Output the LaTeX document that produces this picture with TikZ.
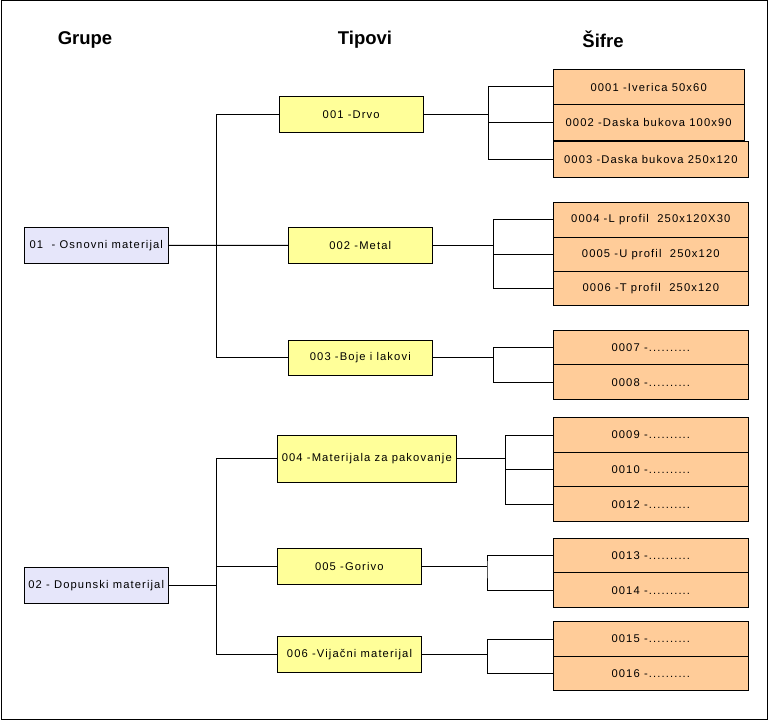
\documentclass[tikz,border=0pt]{standalone}
\usepackage{fontspec}
\setmainfont{Liberation Sans}
\newfontfamily\boxfont[LetterSpace=10]{Liberation Sans}
\usetikzlibrary{positioning}
\definecolor{SifraLavender}{RGB}{230,230,250}
\definecolor{SifraYellow}{RGB}{255,255,153}
\definecolor{SifraPeach}{RGB}{255,204,153}

\begin{document}
\begin{tikzpicture}[x=1pt,y=-1pt,
    title/.style={font=\bfseries\fontsize{18.5}{20}\selectfont},
    box/.style={draw,line width=1pt,inner sep=2pt,outer sep=0pt,minimum height=36pt,font=\boxfont\fontsize{11.2}{13}\selectfont},
    grupa/.style={box,fill=SifraLavender,minimum width=144pt},
    tip/.style={box,fill=SifraYellow,minimum width=144pt},
    sifra/.style={box,fill=SifraPeach,minimum width=195pt,minimum height=34.6pt},
    link/.style={line width=1pt}
  ]
    \useasboundingbox (0,0) rectangle (770,722);
    \draw[line width=1pt] (1,1) rectangle (767.3,719.5);

    \node[title] (grupe) at (85,40) {Grupe};
    \node[title] (tipovi) at (365,40) {Tipovi};
    \node[title] (sifre) at (603,39) {Šifre};

    \node[grupa] (g01) at (96.3,245.5) {01\ \ - Osnovni materijal};
    \node[grupa] (g02) at (96.2,585.3) {02 - Dopunski materijal};

    \node[tip] (t001) at (351.2,114.5) {001 -Drvo};
    \node[tip] (t002) at (360.2,245.3) {002 -Metal};
    \node[tip,minimum height=35pt] (t003) at (360.3,357.8) {003 -Boje i lakovi};
    \node[tip,minimum width=179pt,minimum height=47pt] (t004) at (366.8,458.8) {004 -Materijala za pakovanje};
    \node[tip] (t005) at (349.3,566.3) {005 -Gorivo};
    \node[tip] (t006) at (349.5,654.3) {006 -Vijačni materijal};

    \node[sifra,minimum width=190.7pt,minimum height=35.4pt,anchor=north west] (s0001) at (553.3,69.3) {0001 -Iverica 50x60};
    \node[sifra,minimum width=190.7pt,minimum height=35.4pt,below=0pt of s0001] (s0002) {0002 -Daska bukova 100x90};
    \node[sifra,minimum height=35.6pt,anchor=north west] (s0003) at (553.3,141.7) {0003 -Daska bukova 250x120};

    \node[sifra,minimum height=34.3pt,anchor=north west] (s0004) at (553.3,202.7) {0004 -L profil\ \ 250x120X30};
    \node[sifra,minimum height=34.3pt,below=0pt of s0004] (s0005) {0005 -U profil\ \ 250x120};
    \node[sifra,minimum height=34.3pt,below=0pt of s0005] (s0006) {0006 -T profil\ \ 250x120};

    \node[sifra,anchor=north west] (s0007) at (553.3,330.3) {0007 -..........};
    \node[sifra,below=0pt of s0007] (s0008) {0008 -..........};

    \node[sifra,anchor=north west] (s0009) at (553.3,417.7) {0009 -..........};
    \node[sifra,below=0pt of s0009] (s0010) {0010 -..........};
    \node[sifra,below=0pt of s0010] (s0012) {0012 -..........};

    \node[sifra,anchor=north west] (s0013) at (553.3,538.3) {0013 -..........};
    \node[sifra,below=0pt of s0013] (s0014) {0014 -..........};

    \node[sifra,anchor=north west] (s0015) at (553.3,621.7) {0015 -..........};
    \node[sifra,below=0pt of s0015] (s0016) {0016 -..........};

    \coordinate (k1) at (216.7,245.3);
    \coordinate (k2) at (216.7,585.3);
    \draw[link] (g01.east) -- (t002.west);
    \draw[link] (t001.west) -| (k1) |- (t003.west);
    \draw[link] (g02.east) -- (k2);
    \draw[link] (t004.west) -| (k2) |- (t006.west);
    \draw[link] (k2 |- t005.west) -- (t005.west);

    \coordinate (b1) at (488.3,114.5);
    \draw[link] (t001.east) -- (b1);
    \draw[link] (s0001.west) -| (b1) |- (s0003.west);
    \draw[link] (b1 |- s0002.west) -- (s0002.west);

    \coordinate (b2) at (493.3,245.3);
    \draw[link] (t002.east) -- (b2);
    \draw[link] (s0004.west) -| (b2) |- (s0006.west);
    \draw[link] (b2 |- s0005.west) -- (s0005.west);

    \coordinate (b3) at (493.3,357.8);
    \draw[link] (t003.east) -- (b3);
    \draw[link] (s0007.west) -| (b3) |- (s0008.west);

    \coordinate (b4) at (505.3,458.8);
    \draw[link] (t004.east) -- (b4);
    \draw[link] (s0009.west) -| (b4) |- (s0012.west);
    \draw[link] (b4 |- s0010.west) -- (s0010.west);

    \coordinate (b5) at (487,566.3);
    \draw[link] (t005.east) -- (b5);
    \draw[link] (s0013.west) -| (b5) |- (s0014.west);

    \coordinate (b6) at (487.3,654.3);
    \draw[link] (t006.east) -- (b6);
    \draw[link] (s0015.west) -| (b6) |- (s0016.west);
  \end{tikzpicture}
\end{document}
